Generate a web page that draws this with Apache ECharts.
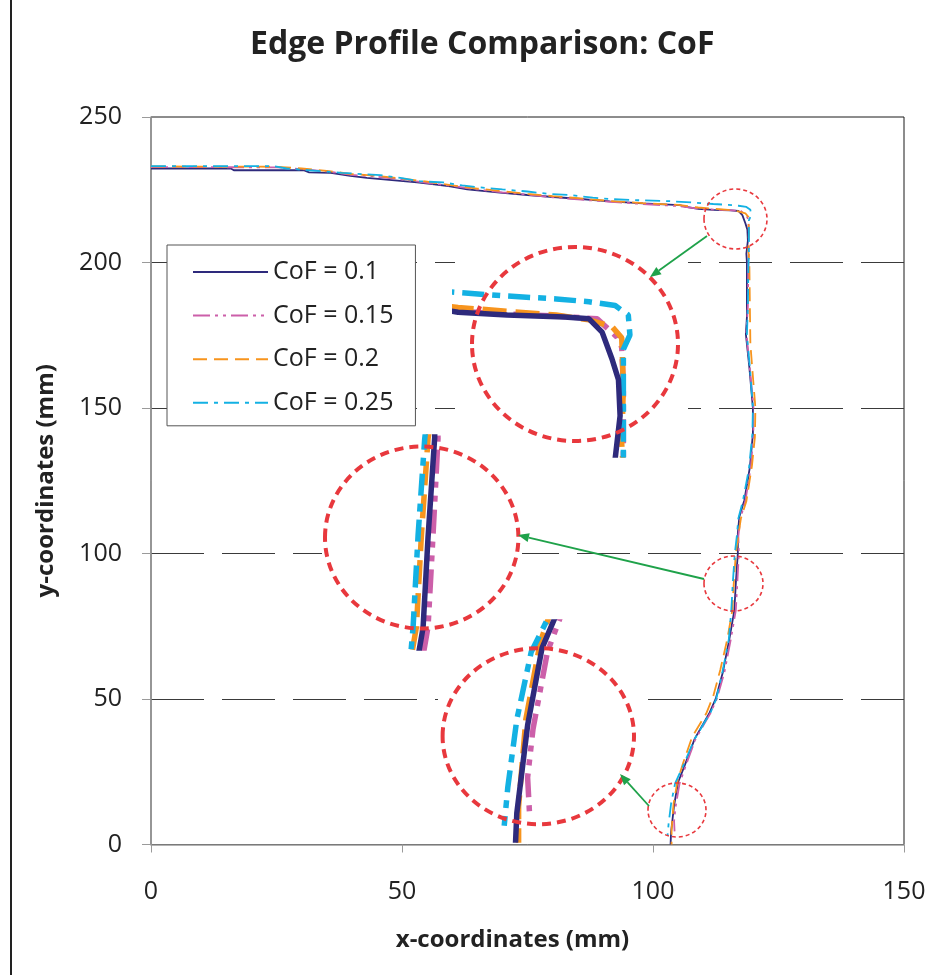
<!DOCTYPE html>
<html>
<head>
<meta charset="utf-8">
<script src="https://cdn.jsdelivr.net/npm/echarts@6/dist/echarts.min.js"></script>
<style>
  html, body { margin: 0; padding: 0; background: #fff; }
  #main { width: 938px; height: 975px; }
</style>
</head>
<body>
<div id="main"></div>
<script>
// tick labels
const xTicks = [0, 50, 100, 150];
const yTicks = [0, 50, 100, 150, 200, 250];

// edge profiles, [x, y] in mm
const cof010 = [
  [0, 232.3], [15.9, 232.3], [16.5, 231.7], [30.4, 231.7], [31.5, 231.0], [35.8, 230.8], [39.7, 229.8],
  [43, 229.1], [48, 228.3], [53, 227.5], [56, 226.9], [59.6, 226.2], [63, 225.1], [69.5, 224.0],
  [75, 223.2], [79.5, 222.6], [85, 221.9], [91.4, 221.0], [98, 220.3], [105.3, 219.7], [106.6, 219.1],
  [109, 218.4], [112, 218.1], [115.5, 217.9], [117.0, 217.7], [117.8, 216.3], [118.4, 213.5],
  [118.8, 211.3], [118.9, 207.5], [118.6, 203.0], [118.7, 200.2], [118.7, 181.0], [118.5, 175.4],
  [119.2, 163.9], [119.9, 150.0], [119.9, 141.1], [119.3, 129.7], [118.2, 118.3], [117.2, 112.6],
  [116.9, 106.9], [116.9, 100.1], [116.5, 89.8], [116.2, 80.4], [115.2, 70.5], [113.9, 59.1],
  [112.5, 50.1], [111.3, 45.4], [108.3, 36.3], [106.3, 27.1], [105.0, 21.4], [104.2, 13.4],
  [103.6, 4.3], [103.5, 0]
];
const cof015 = [
  [0, 232.8], [25, 232.7], [30, 232.1], [35, 231.3], [40, 230.1], [45, 229.5], [50, 228.5], [55, 227.4],
  [60, 226.3], [65, 225.1], [70, 224.1], [75, 223.3], [80, 222.4], [85, 221.7], [91, 220.9], [98, 220.1],
  [105, 219.4], [109, 218.5], [112, 218.2], [115, 218.0], [117.5, 217.7], [118.7, 215.8], [119.0, 214.7],
  [119.1, 210.5], [119.1, 202.8], [119.0, 199], [118.9, 185], [118.6, 176], [119.2, 165], [120.0, 151],
  [120.0, 141], [119.5, 130], [118.4, 118], [117.4, 112], [117.0, 106], [117.1, 100], [116.8, 90],
  [116.5, 80.5], [115.5, 70.5], [114.2, 59], [112.7, 50], [111.4, 45], [108.4, 36], [106.5, 27],
  [105.3, 21], [104.5, 13], [104.2, 8], [104.3, 4.5]
];
const cof020 = [
  [0, 233.0], [25, 232.9], [30, 232.3], [35, 231.5], [40, 230.4], [45, 229.8], [50, 228.8], [55, 227.8],
  [60, 226.5], [65, 225.4], [70, 224.5], [75, 223.6], [80, 222.8], [85, 222.1], [91, 221.2], [98, 220.4],
  [105, 219.8], [109, 218.9], [112, 218.5], [115, 218.1], [117, 217.6], [118.4, 216.9], [119.0, 215.7],
  [119.1, 210.5], [119.0, 204.5], [119.2, 199], [119.3, 185], [119.4, 172], [119.8, 163], [120.4, 150],
  [120.3, 140], [119.7, 130], [118.6, 118], [117.5, 112], [117.0, 106], [116.5, 100], [116.1, 90],
  [115.8, 80.5], [114.8, 70.5], [113.4, 60], [112.0, 51], [110.6, 45], [107.8, 37], [106.0, 28],
  [104.9, 22], [104.1, 14], [103.7, 5], [103.7, 0]
];
const cof025 = [
  [0, 233.1], [24.4, 233.1], [27, 232.3], [33, 231.5], [38, 230.8], [45.7, 230.0], [50, 229.0],
  [53.6, 227.9], [58.2, 227.5], [62, 226.5], [65.6, 225.8], [70, 225.1], [75, 224.4], [79.5, 223.5],
  [83.4, 223.2], [88, 222.3], [91.4, 221.8], [97, 221.4], [103, 221.1], [108, 220.6], [112, 220.1],
  [115, 219.8], [117, 219.5], [118.6, 219.1], [119.4, 218.1], [119.5, 216.0], [119.1, 214.5], [119.1, 202.5],
  [119.0, 199], [118.9, 185], [118.7, 175], [119.3, 164], [119.9, 150], [119.8, 141], [119.1, 129],
  [117.9, 118], [117.0, 112], [116.7, 106], [116.3, 100], [115.9, 90], [115.6, 80.5], [115.1, 70.5],
  [113.8, 59], [112.6, 50], [111.5, 45.5], [108.2, 36], [106.0, 27], [104.4, 21], [103.6, 14],
  [103.1, 7], [102.9, 3]
];

const FONT = 'Open Sans';
const TXT = '#222';

const profiles = [
  { name: 'CoF = 0.1', data: cof010, color: '#2e2a7c', dash: 'solid', bigDash: 'solid' },
  { name: 'CoF = 0.15', data: cof015, color: '#cc5fa9', dash: [17, 5, 3, 5, 3, 5], bigDash: [24, 8, 6, 8, 6, 8] },
  { name: 'CoF = 0.2', data: cof020, color: '#f7941d', dash: [14, 7], bigDash: [24, 9] },
  { name: 'CoF = 0.25', data: cof025, color: '#13b1e3', dash: [15, 6, 4, 6], bigDash: [22, 8, 8, 8] }
];

// magnified views (rect on the page + data window)
const insets = [
  { rect: { left: 455, top: 240, width: 233, height: 215 }, x: [108.81, 123.05], y: [203.37, 226.0] },
  { rect: { left: 322, top: 437, width: 200, height: 211 }, x: [110.11, 122.16], y: [78.29, 100.16] },
  { rect: { left: 438, top: 622, width: 208, height: 218 }, x: [99.22, 110.78], y: [1.52, 24.11] }
];

const grids = [{ left: 151, top: 117, width: 753, height: 727.5, show: true, borderColor: '#1a1a1a', borderWidth: 1, backgroundColor: 'transparent' }];
const xAxes = [{
  type: 'value', gridIndex: 0, min: xTicks[0], max: xTicks[xTicks.length - 1], interval: xTicks[1] - xTicks[0],
  name: 'x-coordinates (mm)', nameLocation: 'middle', nameGap: 84,
  nameTextStyle: { fontFamily: FONT, fontWeight: 'bold', fontSize: 24, color: TXT, padding: [0, 30, 0, 0] },
  axisLine: { lineStyle: { color: '#9a9a9a', width: 1.5 } },
  axisTick: { show: true, inside: false, length: 8, lineStyle: { color: '#9a9a9a' } },
  axisLabel: { fontFamily: FONT, fontSize: 25, color: TXT, margin: 35 },
  splitLine: { show: false }
}];
const yAxes = [{
  type: 'value', gridIndex: 0, min: yTicks[0], max: yTicks[yTicks.length - 1], interval: yTicks[1] - yTicks[0],
  name: 'y-coordinates (mm)', nameLocation: 'middle', nameGap: 93,
  nameTextStyle: { fontFamily: FONT, fontWeight: 'bold', fontSize: 24, color: TXT },
  axisLine: { show: true, lineStyle: { color: '#9a9a9a', width: 1.5 } },
  axisTick: { show: true, inside: false, length: 9, lineStyle: { color: '#9a9a9a' } },
  axisLabel: { fontFamily: FONT, fontSize: 25, color: TXT, margin: 29 },
  splitLine: { show: true, showMinLine: false, showMaxLine: false, lineStyle: { color: '#3a3a3a', width: 1.2, type: [53, 18] } }
}];

insets.forEach((ins, i) => {
  grids.push(Object.assign({ show: true, backgroundColor: '#fff', borderWidth: 0, z: 1 }, ins.rect));
  xAxes.push({ type: 'value', gridIndex: i + 1, min: ins.x[0], max: ins.x[1], show: false });
  yAxes.push({ type: 'value', gridIndex: i + 1, min: ins.y[0], max: ins.y[1], show: false });
});

const series = [];
profiles.forEach((p) => {
  series.push({
    name: p.name, type: 'line', xAxisIndex: 0, yAxisIndex: 0, data: p.data,
    symbol: 'none', color: p.color, lineStyle: { width: 1.8, type: p.dash, color: p.color }
  });
});
insets.forEach((ins, i) => {
  // navy on top inside the zoom views
  [1, 2, 3, 0].forEach((k, order) => {
    const p = profiles[k];
    series.push({
      name: p.name, type: 'line', xAxisIndex: i + 1, yAxisIndex: i + 1, data: p.data,
      symbol: 'none', color: p.color, z: 3 + order, clip: true,
      lineStyle: { width: 5.5, type: p.bigDash, color: p.color, cap: 'butt' }
    });
  });
});

// red dashed circles and green arrows
const RED = '#e8383d', GREEN = '#1fa24a';
const circles = [
  { cx: 735.5, cy: 219, rx: 31.5, ry: 30, big: false },
  { cx: 733.5, cy: 583.5, rx: 29.5, ry: 27.5, big: false },
  { cx: 677, cy: 810, rx: 29, ry: 27, big: false },
  { cx: 575, cy: 344, rx: 103, ry: 97, big: true },
  { cx: 421.7, cy: 537.5, rx: 96.7, ry: 91, big: true },
  { cx: 538.3, cy: 736.2, rx: 95.7, ry: 88, big: true }
];
const arrows = [
  [707, 236, 650, 277],
  [704, 579, 518, 535],
  [649, 806, 620, 774]
];

const graphics = [
  { type: 'line', shape: { x1: 11, y1: 0, x2: 11, y2: 975 }, style: { stroke: '#222', lineWidth: 2 }, z: 100 }
];
circles.forEach((c) => {
  graphics.push({
    type: 'ellipse', shape: { cx: c.cx, cy: c.cy, rx: c.rx, ry: c.ry }, z: 100,
    style: { fill: null, stroke: RED, lineWidth: c.big ? 4 : 1.6, lineDash: c.big ? [9, 6] : [4, 3] }
  });
});
arrows.forEach((a) => {
  const [x1, y1, x2, y2] = a;
  const ang = Math.atan2(y2 - y1, x2 - x1);
  const L = 11, W = 4.5;
  const bx = x2 - L * Math.cos(ang), by = y2 - L * Math.sin(ang);
  graphics.push({ type: 'line', shape: { x1, y1, x2: bx, y2: by }, style: { stroke: GREEN, lineWidth: 1.8 }, z: 100 });
  graphics.push({
    type: 'polygon', z: 100,
    shape: { points: [[x2, y2], [bx + W * Math.sin(ang), by - W * Math.cos(ang)], [bx - W * Math.sin(ang), by + W * Math.cos(ang)]] },
    style: { fill: GREEN }
  });
});

const chart = echarts.init(document.getElementById('main'));
chart.setOption({
  animation: false,
  backgroundColor: '#fff',
  title: {
    text: 'Edge Profile Comparison: CoF', left: 250, top: 29, padding: 0,
    textStyle: { fontFamily: FONT, fontWeight: 'bold', fontSize: 32, color: TXT }
  },
  legend: {
    data: profiles.map((p) => p.name), orient: 'vertical', left: 167, top: 245,
    padding: [12, 22, 8, 25], itemWidth: 75, itemHeight: 30, itemGap: 13.6,
    itemStyle: { opacity: 0 },
    backgroundColor: '#fff', borderColor: '#555', borderWidth: 1, z: 10,
    textStyle: { fontFamily: FONT, fontSize: 25, color: TXT, lineHeight: 30 }
  },
  grid: grids,
  xAxis: xAxes,
  yAxis: yAxes,
  series: series,
  graphic: graphics
});
</script>
</body>
</html>
